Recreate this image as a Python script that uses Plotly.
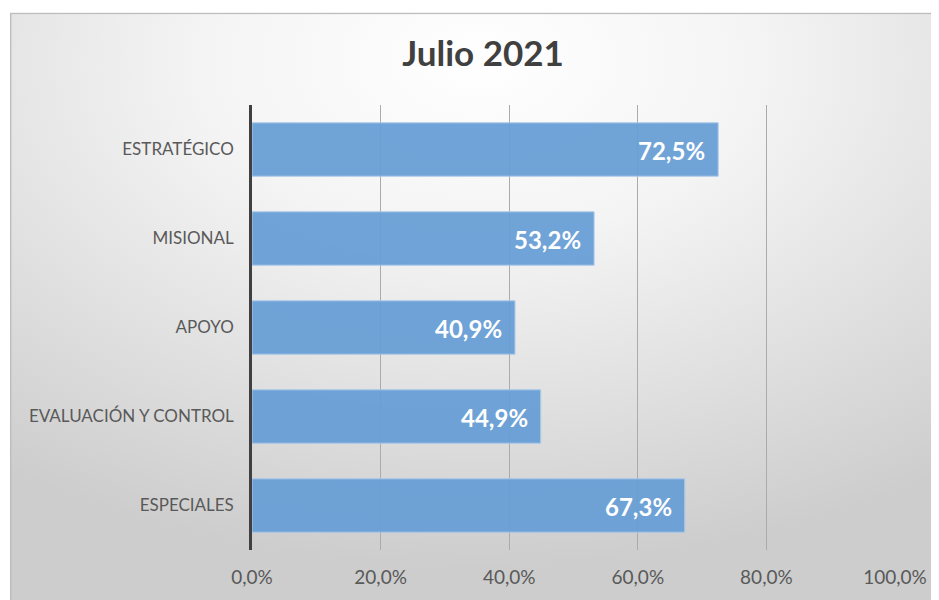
import plotly.graph_objects as go
import urllib.parse

categories = ["ESTRATÉGICO", "MISIONAL", "APOYO", "EVALUACIÓN Y CONTROL", "ESPECIALES"]
values = [0.725, 0.532, 0.409, 0.449, 0.673]
x_ticks = [0, 0.2, 0.4, 0.6, 0.8, 1.0]
title_text = "Julio 2021"

# page body has an 8px margin, so the figure is sized/positioned to compensate
W, H = 931, 592
ML, MR, MT, MB = 244, 39, 97, 47
pw, ph = W - ML - MR, H - MT - MB

box_l, box_t, box_r, box_b = 0, 4, 940, 600
svg = (
    "<svg xmlns='http://www.w3.org/2000/svg' width='940' height='596' viewBox='0 0 940 596' preserveAspectRatio='none'>"
    "<defs><radialGradient id='g' cx='50%' cy='8%' r='85%' fx='50%' fy='8%'>"
    "<stop offset='0' stop-color='#ffffff'/><stop offset='0.35' stop-color='#f4f4f4'/>"
    "<stop offset='1' stop-color='#cdcdcd'/></radialGradient></defs>"
    "<rect x='0.75' y='0.75' width='945' height='600' fill='url(#g)' stroke='#bdbdbd' stroke-width='1.5'/></svg>"
)
src = "data:image/svg+xml;charset=utf-8," + urllib.parse.quote(svg)

FONT = "Lato, Open Sans, sans-serif"

fig = go.Figure()
fig.add_trace(go.Bar(
    y=categories, x=values, orientation="h",
    marker=dict(color="#689fd6", opacity=0.94, line=dict(color="#a9c9ea", width=1)),
    width=0.6,
    hoverinfo="skip",
))

for c, v in zip(categories, values):
    fig.add_annotation(
        x=v, y=c, xref="x", yref="y",
        text="<b>" + f"{v*100:.1f}".replace(".", ",") + "%</b>",
        showarrow=False, xanchor="right", xshift=-11, yshift=-1,
        font=dict(family=FONT, size=24, color="white"),
    )

fig.add_layout_image(dict(
    source=src, xref="paper", yref="paper",
    x=(box_l - ML) / pw, y=(H - box_t - MB) / ph,
    sizex=(box_r - box_l) / pw, sizey=(box_b - box_t) / ph,
    sizing="stretch", xanchor="left", yanchor="top", layer="below",
))

fig.update_layout(
    width=W, height=H,
    margin=dict(l=ML, r=MR, t=MT, b=MB),
    paper_bgcolor="white", plot_bgcolor="rgba(0,0,0,0)",
    separators=",.",
    showlegend=False,
    title=dict(text="<b>" + title_text + "</b>", x=475 / W, xanchor="center",
               y=1 - 46 / H, yanchor="middle",
               font=dict(family=FONT, size=35, color="#404040")),
    xaxis=dict(range=[0, 1.0], tickvals=x_ticks, tickformat=".1%",
               showgrid=True, gridcolor="#ababab", gridwidth=1,
               zeroline=False, showline=False, ticks="",
               ticklabelstandoff=14,
               tickfont=dict(family=FONT, size=19, color="#595959")),
    yaxis=dict(autorange="reversed", showline=True, linecolor="#404040", linewidth=2.5,
               ticks="", ticklabelstandoff=12, showgrid=False,
               tickfont=dict(family=FONT, size=17, color="#595959")),
)

fig.write_html("out.html")
